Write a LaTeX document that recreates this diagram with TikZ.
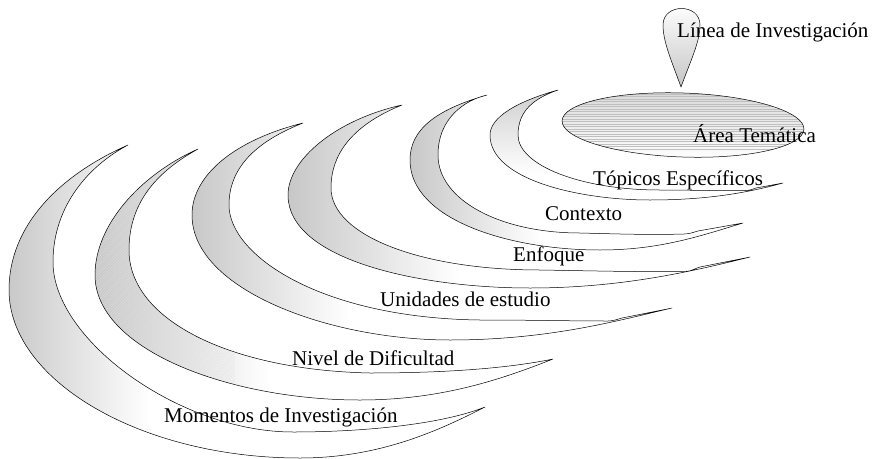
\documentclass[tikz,border=0pt]{standalone}
\usepackage{fontspec}
\setmainfont{Liberation Serif}
\usetikzlibrary{patterns.meta}

\def\crMom{(128,145) .. controls (60,175) and (9,225) .. (9,290) .. controls (9,380) and (140,458) .. (300,458) .. controls (380,458) and (440,430) .. (485,407) .. controls (440,425) and (360,432) .. (293,432) .. controls (180,432) and (53,340) .. (53,262) .. controls (53,205) and (90,165) .. (128,145) -- cycle}
\def\crNiv{(198,149) .. controls (140,175) and (95,225) .. (95,275) .. controls (95,350) and (230,400) .. (360,400) .. controls (440,400) and (500,380) .. (553,359) .. controls (500,370) and (430,373) .. (370,373) .. controls (230,370) and (129,320) .. (129,250) .. controls (129,200) and (160,170) .. (198,149) -- cycle}
\def\crUni{(303,123) .. controls (235,140) and (192,175) .. (192,215) .. controls (192,290) and (330,340) .. (450,340) .. controls (550,340) and (620,320) .. (672,308) -- (622,318) .. controls (618,319) and (614,321) .. (608,321) .. controls (570,321) and (530,320) .. (480,320) .. controls (320,318) and (229,255) .. (229,205) .. controls (229,165) and (260,140) .. (303,123) -- cycle}
\def\crEnf{(402,105) .. controls (335,120) and (288,160) .. (288,195) .. controls (288,260) and (420,288) .. (530,288) .. controls (620,288) and (690,272) .. (750,257) -- (700,267) .. controls (696,268) and (692,271) .. (686,271.5) .. controls (640,272) and (600,271) .. (540,270) .. controls (420,270) and (331,235) .. (331,188) .. controls (331,145) and (365,120) .. (402,105) -- cycle}
\def\crCon{(487,95) .. controls (435,110) and (410,130) .. (410,160) .. controls (410,220) and (510,250) .. (600,250) .. controls (660,250) and (700,236) .. (743,223) -- (698,231) .. controls (694,232) and (690,234) .. (684,234) .. controls (650,235) and (620,234) .. (580,233) .. controls (500,233) and (438,200) .. (438,155) .. controls (438,118) and (465,100) .. (487,95) -- cycle}
\def\crTop{(558,90) .. controls (515,102) and (490,118) .. (490,135) .. controls (490,180) and (580,200) .. (650,200) .. controls (710,200) and (750,192) .. (783,183) -- (756,188) .. controls (753,189) and (750,190.5) .. (745,190.5) .. controls (720,191) and (690,190) .. (660,190) .. controls (580,190) and (518,165) .. (518,135) .. controls (518,110) and (535,98) .. (558,90) -- cycle}
\def\pinpath{(681,87) .. controls (672,62) and (663,42) .. (663,25) .. controls (663,3) and (700,3) .. (700,25) .. controls (700,42) and (690,62) .. (681,87) -- cycle}

\begin{document}
\begin{tikzpicture}[x=1pt,y=-1pt,
  edge/.style={draw=black,line width=0.5pt,line join=round},
  band/.style={left color=gray!45,right color=white},
  lab/.style={anchor=base west,inner sep=0pt,font=\fontsize{21}{25}\selectfont}]
\useasboundingbox[fill=white] (0,0) rectangle (873,458);

% Momentos
\begin{scope}
  \clip \crMom;
  \shade[band] (0,130) rectangle (150,460);
\end{scope}
\draw[edge] \crMom;

% Nivel (hatched)
\begin{scope}
  \clip \crNiv;
  \shade[band] (90,140) rectangle (270,410);
  \fill[pattern={Lines[angle=45,distance=2pt,line width=0.3pt]},pattern color=gray!25] (90,140) rectangle (235,400);
\end{scope}
\draw[edge] \crNiv;

% Unidades
\begin{scope}
  \clip \crUni;
  \shade[band] (185,115) rectangle (350,345);
\end{scope}
\draw[edge] \crUni;

% Enfoque
\begin{scope}
  \clip \crEnf;
  \shade[band] (283,100) rectangle (460,295);
\end{scope}
\draw[edge] \crEnf;

% Contexto
\begin{scope}
  \clip \crCon;
  \shade[band] (405,90) rectangle (540,255);
\end{scope}
\draw[edge] \crCon;

% Topicos
\begin{scope}
  \clip \crTop;
  \shade[top color=gray!40,bottom color=white] (480,85) rectangle (800,175);
\end{scope}
\draw[edge] \crTop;

% Area tematica ellipse
\begin{scope}
  \clip[rotate around={-2:(683,125)}] (683,125) ellipse [x radius=121,y radius=32];
  \shade[top color=gray!30,bottom color=white] (555,90) rectangle (812,160);
  \foreach \yy in {94,96.5,...,150} \draw[gray!50,line width=0.25pt] (555,\yy) -- (812,\yy);
\end{scope}
\draw[edge,rotate around={-2:(683,125)}] (683,125) ellipse [x radius=121,y radius=32];

% pin
\shade[edge,top color=white,bottom color=gray!45] \pinpath;

% labels
\node[lab] (linea) at (677,37) {Línea de Investigación};
\node[lab] (area) at (693,142) {Área Temática};
\node[lab] (topicos) at (593,185) {Tópicos Específicos};
\node[lab] (contexto) at (545,220) {Contexto};
\node[lab] (enfoque) at (513,261) {Enfoque};
\node[lab] (unidades) at (380,306) {Unidades de estudio};
\node[lab] (nivel) at (292,365) {Nivel de Dificultad};
\node[lab] (momentos) at (164,422) {Momentos de Investigación};
\end{tikzpicture}
\end{document}
